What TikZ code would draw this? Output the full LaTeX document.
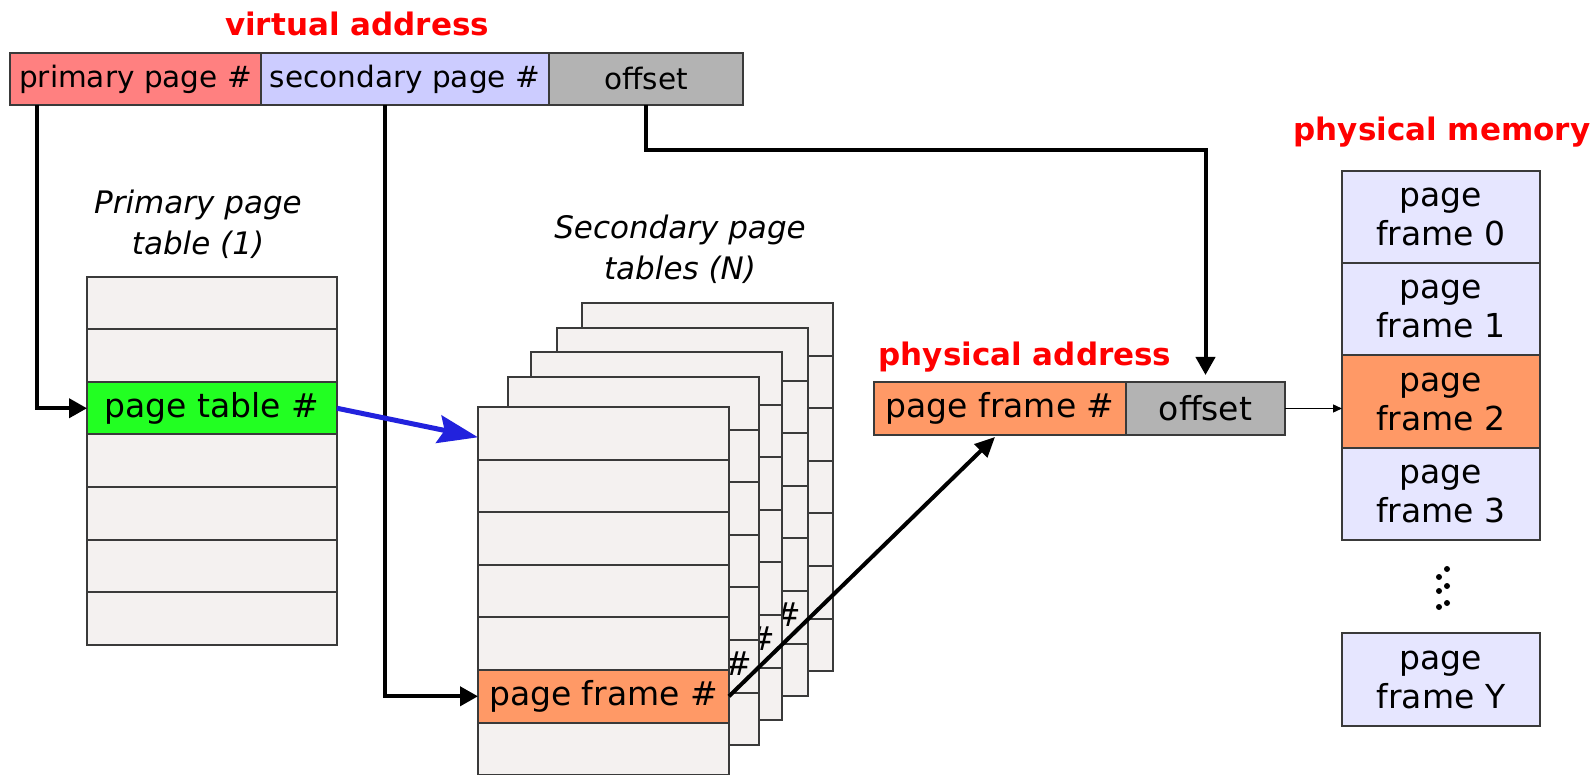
\documentclass[tikz,border=0pt]{standalone}
\usepackage{fontspec}
\setmainfont{DejaVu Sans}
\usetikzlibrary{arrows.meta,calc}
\definecolor{prim}{HTML}{FF8080}
\definecolor{sec}{HTML}{CCCCFF}
\definecolor{offs}{HTML}{B3B3B3}
\definecolor{tbl}{HTML}{F4F1F0}
\definecolor{grn}{HTML}{22FF22}
\definecolor{org}{HTML}{FF9966}
\definecolor{mem}{HTML}{E6E6FF}
\definecolor{lbl}{HTML}{FF0000}
\definecolor{blu}{HTML}{2222DD}
\definecolor{edgec}{HTML}{3A3A3A}
\tikzset{
  box/.style={draw=edgec, line width=2pt, inner sep=0pt, outer sep=0pt, anchor=center},
  txt/.style={font=\fontsize{33}{39}\selectfont},
  vatxt/.style={font=\fontsize{29.5}{34}\selectfont},
  redlbl/.style={text=lbl, font=\fontsize{31}{36}\selectfont\bfseries},
  itl/.style={font=\fontsize{31}{41}\selectfont\itshape, align=center},
  bigarrow/.style={line width=4pt, -{Triangle[length=18pt,width=19pt]}},
  memtxt/.style={font=\fontsize{33}{39}\selectfont, align=center},
}
\begin{document}
\begin{tikzpicture}[x=1pt,y=-1pt]
\useasboundingbox[fill=white] (0,0) rectangle (1596,775);

% virtual address
\node[redlbl] (lva) at (357,24) {virtual address};
\node[box, fill=prim, minimum width=251pt, minimum height=52pt, vatxt] (vp) at (135.5,79) {primary page \#};
\node[box, fill=sec, minimum width=288pt, minimum height=52pt, vatxt] (vs) at (405,79) {secondary page \#};
\node[box, fill=offs, minimum width=194pt, minimum height=52pt, vatxt] (vo) at (646,79) {offset};

% primary page table
\node[itl] (lp) at (198,224) {Primary page\\table (1)};
\foreach \k in {0,1,3,4,5,6} {
  \node[box, fill=tbl, minimum width=250pt, minimum height=52.5pt] (p\k) at (212,{303.25+52.5*\k}) {};
}
\node[box, fill=grn, minimum width=250pt, minimum height=52.5pt, txt] (p2) at (212,408.25) {page table \#};

% secondary page tables
\node[itl] (ls) at (680,249) {Secondary page\\tables (N)};
\foreach \t/\lx/\ty/\h in {4/582/303/{}, 3/557/328/{\#}, 2/531/352/{\#}, 1/508/377/{\#}} {
  \foreach \r in {0,...,6} {
    \node[box, fill=tbl, minimum width=251pt, minimum height=52.6pt] (s\t-\r) at ({\lx+125.5},{\ty+26.3+52.6*\r}) {};
  }
  \node[txt, anchor=east, inner sep=0pt] (h\t) at ({\lx+244},{\ty+24+52.6*5}) {\h};
}
\foreach \r in {0,1,2,3,4,6} {
  \node[box, fill=tbl, minimum width=251pt, minimum height=52.6pt] (s0-\r) at (603.5,{407+26.3+52.6*\r}) {};
}
\node[box, fill=org, minimum width=251pt, minimum height=52.6pt, txt] (s0-5) at (603.5,696.3) {page frame \#};

% physical address
\node[redlbl] (lpa) at (1025,357) {physical address};
\node[box, fill=org, minimum width=252pt, minimum height=53pt, txt] (pf) at (1000,408.5) {page frame \#};
\node[box, fill=offs, minimum width=159pt, minimum height=53pt, txt] (po) at (1205.5,408.5) {offset};

% physical memory
\node[redlbl] (lpm) at (1442,132) {physical memory};
\foreach \k/\c in {0/mem,1/mem,2/org,3/mem} {
  \node[box, fill=\c, minimum width=198pt, minimum height=92.25pt, memtxt] (m\k) at (1441,{217.1+92.25*\k}) {page\\frame \k};
}
\node[box, fill=mem, minimum width=198pt, minimum height=93pt, memtxt] (mY) at (1441,679.5) {page\\frame Y};
\foreach \dx/\dy in {1439/577,1439/591,1439/607,1447/569,1447/586,1447/603} {
  \fill[black] (\dx,\dy) circle (3pt);
}

% connectors
\draw[bigarrow] ([xshift=27pt]vp.south west) |- (p2.west);
\draw[bigarrow] ([xshift=-20pt]vs.south) |- (s0-5.west);
\draw[bigarrow] (vo.south) -- ++(0,45) -| ([yshift=7pt]po.north);
\draw[line width=5pt, blu, -{Stealth[length=40pt,width=28pt,inset=6pt]}] (p2.east) -- ([yshift=-4pt]s0-0.west);
\draw[line width=4pt, -{Triangle[length=20pt,width=18pt]}] (s0-5.east) -- ([xshift=-5pt,yshift=-2pt]pf.south);
\draw[line width=1.3pt, -{Triangle[length=9pt,width=8pt]}] (po.east) -- (po.east -| m2.west);
\end{tikzpicture}
\end{document}
